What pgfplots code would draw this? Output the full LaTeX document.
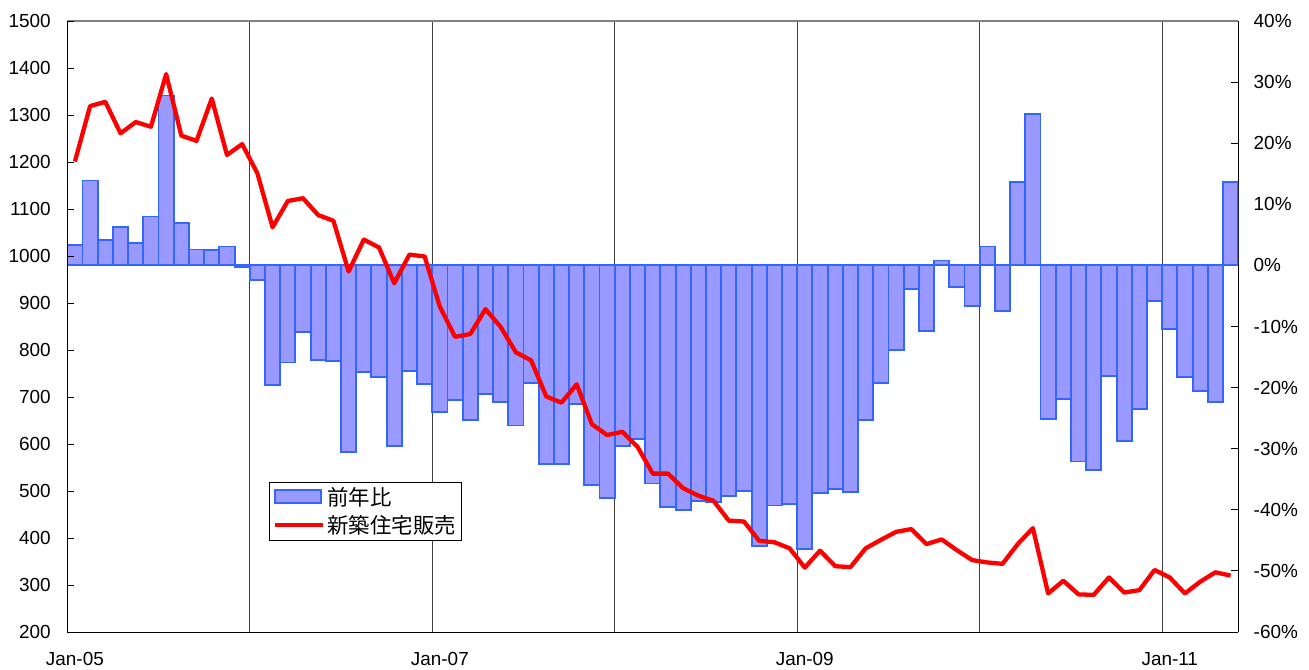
\documentclass[border=0pt]{standalone}
\usepackage{pgfplots}
\pgfplotsset{compat=1.18}
\usepackage{fontspec}
\setmainfont{Liberation Sans}
\newfontfamily\cjk{Noto Sans CJK JP}
\definecolor{barfill}{HTML}{9999FF}
\definecolor{baredge}{HTML}{3366FF}
\definecolor{redline}{HTML}{FF0000}
\begin{document}
\begin{tikzpicture}
\useasboundingbox (-67.3bp,-38bp) rectangle (1241.7bp,632bp);
\begin{axis}[
  at={(0,0)}, anchor=south west, scale only axis,
  width=1171bp, height=611bp,
  xmin=-0.5, xmax=76.5, ymin=-60, ymax=40,
  axis y line*=right, axis x line*=bottom,
  axis line style={black, line width=1bp},
  xtick={0,24,48,72}, xticklabels={Jan-05,Jan-07,Jan-09,Jan-11},
  xtick style={draw=none},
  extra x ticks={11.5,23.5,35.5,47.5,59.5,71.5}, extra x tick labels={},
  extra x tick style={grid=major},
  major grid style={black!75, line width=0.8bp},
  ytick={-60,-50,-40,-30,-20,-10,0,10,20,30,40},
  yticklabels={-60\%,-50\%,-40\%,-30\%,-20\%,-10\%,0\%,10\%,20\%,30\%,40\%},
  tick align=inside, major tick length=7bp,
  ytick style={black, line width=0.8bp},
  ticklabel style={font=\fontsize{19}{22}\selectfont},
  yticklabel style={xshift=12bp},
  xticklabel style={yshift=-17bp},
]
\addplot[ybar, bar width=1, fill=barfill, draw=baredge, line width=1.9bp] coordinates {
(0,3.3) (1,13.9) (2,4.2) (3,6.3) (4,3.7) (5,8.0) (6,27.8) (7,6.9) (8,2.6) (9,2.5) (10,3.1) (11,-0.3)
(12,-2.4) (13,-19.6) (14,-15.9) (15,-10.9) (16,-15.5) (17,-15.7) (18,-30.5) (19,-17.5) (20,-18.3) (21,-29.6) (22,-17.3) (23,-19.4)
(24,-24.0) (25,-22.0) (26,-25.3) (27,-21.0) (28,-22.3) (29,-26.2) (30,-19.3) (31,-32.5) (32,-32.5) (33,-22.7) (34,-36.0) (35,-38.0)
(36,-29.6) (37,-28.4) (38,-35.7) (39,-39.6) (40,-40.1) (41,-38.6) (42,-38.7) (43,-37.7) (44,-36.9) (45,-45.9) (46,-39.3) (47,-39.1)
(48,-46.4) (49,-37.3) (50,-36.6) (51,-37.1) (52,-25.3) (53,-19.3) (54,-13.9) (55,-3.8) (56,-10.8) (57,0.8) (58,-3.5) (59,-6.6)
(60,3.1) (61,-7.5) (62,13.7) (63,24.8) (64,-25.2) (65,-21.9) (66,-32.1) (67,-33.5) (68,-18.1) (69,-28.8) (70,-23.5) (71,-5.9)
(72,-10.4) (73,-18.3) (74,-20.5) (75,-22.3) (76,13.6)
};
\draw[black!50, line width=1.3bp] (rel axis cs:0,1) -- (rel axis cs:1,1);
\end{axis}
\begin{axis}[
  at={(0,0)}, anchor=south west, scale only axis,
  width=1171bp, height=611bp,
  xmin=-0.5, xmax=76.5, ymin=200, ymax=1500,
  axis y line*=left, axis x line=none,
  axis line style={black, line width=1bp},
  ytick={200,300,...,1500},
  tick align=inside, major tick length=7bp,
  ytick style={black, line width=0.8bp},
  /pgf/number format/1000 sep={},
  /pgf/number format/assume math mode=true,
  yticklabel style={font=\fontsize{19}{22}\selectfont, xshift=-13bp},
  legend style={at={(0.172,0.246)}, anchor=north west, draw=black, line width=0.8bp,
    fill=white, font=\cjk\fontsize{21.5}{25}\selectfont, inner xsep=4bp, inner ysep=3.5bp,
    row sep=4bp, /tikz/every even column/.append style={column sep=5bp}},
  legend cell align=left,
]
\addlegendimage{legend image code/.code={\draw[fill=barfill, draw=baredge, line width=1.9bp] (0bp,-6bp) rectangle (46bp,7bp);}}
\addlegendentry{前年比}
\addplot[redline, line width=4.3bp, line join=round, mark=none,
  legend image code/.code={\draw[redline, line width=4.3bp] (0bp,0bp) -- (48bp,0bp);}] coordinates {
(0,1201) (1,1319) (2,1328) (3,1261) (4,1285) (5,1275) (6,1387) (7,1256) (8,1245) (9,1335) (10,1215) (11,1238)
(12,1176) (13,1061) (14,1117) (15,1123) (16,1087) (17,1075) (18,967) (19,1035) (20,1018) (21,942) (22,1003) (23,999)
(24,892) (25,828) (26,834) (27,887) (28,849) (29,795) (30,778) (31,701) (32,688) (33,727) (34,642) (35,619)
(36,626) (37,594) (38,537) (39,537) (40,506) (41,490) (42,479) (43,437) (44,435) (45,394) (46,391) (47,378)
(48,337) (49,373) (50,340) (51,338) (52,378) (53,396) (54,413) (55,419) (56,387) (57,397) (58,374) (59,353)
(60,348) (61,345) (62,387) (63,421) (64,282) (65,309) (66,280) (67,279) (68,316) (69,284) (70,289) (71,332)
(72,316) (73,282) (74,307) (75,327) (76,320)
};
\addlegendentry{新築住宅販売}
\end{axis}
\end{tikzpicture}
\end{document}
